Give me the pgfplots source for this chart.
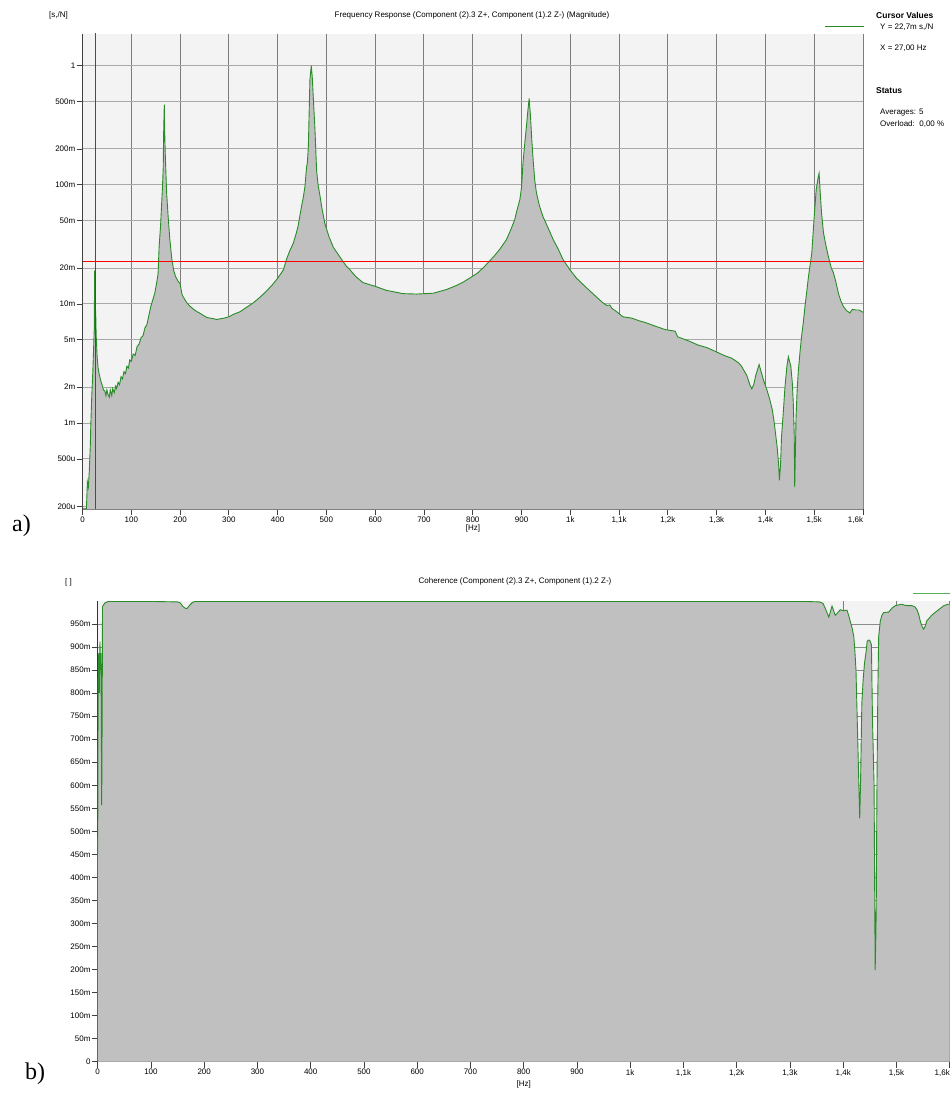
\documentclass[border=0pt]{standalone}
\usepackage{fontspec}
\setmainfont{Liberation Sans}
\newfontfamily\seriffont{Liberation Serif}
\usepackage{pgfplots}
\pgfplotsset{compat=1.18}
\usepackage{pgfplotstable}
\definecolor{bgc}{HTML}{F3F3F3}
\definecolor{fillc}{HTML}{C0C0C0}
\definecolor{linec}{RGB}{40,140,40}
\definecolor{lightg}{RGB}{90,175,90}
\definecolor{vgrid}{HTML}{7C7C7C}
\definecolor{hgrid}{HTML}{A8A8A8}
\newcommand{\lbl}{\fontsize{8}{9}\selectfont}
\newcommand{\bfnt}{\fontsize{8.5}{10}\selectfont\bfseries}

\pgfplotstableread{
f y
8 0.00019
10 0.00032
12 0.00029
14 0.00040
16 0.00065
17 0.00095
19 0.0017
21 0.0026
23 0.0045
24 0.0060
25 0.019
26 0.0060
27 0.0087
28 0.0055
30 0.0036
32 0.0029
34 0.0026
37 0.0023
40 0.0021
43 0.0019
46 0.00185
48 0.0017
50 0.0019
52 0.00175
55 0.00165
57 0.0019
60 0.0017
62 0.00195
65 0.0018
68 0.00205
70 0.00195
73 0.0022
76 0.0021
79 0.00245
82 0.00235
85 0.0027
88 0.0026
91 0.0030
94 0.0029
97 0.0034
100 0.0033
104 0.0038
108 0.0037
112 0.0044
116 0.0046
120 0.0052
124 0.0054
128 0.0063
132 0.0067
136 0.0080
140 0.0095
144 0.0108
148 0.0122
152 0.015
155 0.018
157 0.030
160 0.045
162 0.066
164 0.097
165.5 0.14
166.5 0.29
167.7 0.47
168.5 0.28
169.5 0.19
171 0.126
172.5 0.085
176 0.051
179 0.035
183 0.024
187 0.019
191 0.0169
196 0.0155
200 0.0148
204 0.0120
209 0.0110
214 0.0102
220 0.0096
228 0.0090
235 0.0086
242 0.0083
248 0.0080
255 0.0077
262 0.0076
270 0.0075
275 0.0074
282 0.0075
290 0.0076
300 0.0078
310 0.0082
323 0.0086
335 0.0093
350 0.0102
365 0.0115
377 0.0128
390 0.0146
400 0.0164
412 0.0194
418 0.0236
425 0.028
432 0.0322
438 0.039
442 0.045
446 0.056
449 0.066
453 0.080
456 0.097
459.4 0.142
461 0.153
463 0.21
466.2 0.76
469 1.0
471 0.80
473 0.55
476.4 0.30
480 0.13
483 0.10
487 0.080
491 0.063
497 0.047
505 0.037
514 0.030
527 0.025
541 0.0207
548 0.0194
560 0.017
575 0.0151
599 0.0141
623 0.0130
657 0.0122
685 0.0121
719 0.0123
746 0.0132
765 0.0142
780 0.0152
795 0.0166
810 0.0182
822 0.0202
834 0.0228
846 0.0258
856 0.029
869 0.0346
878 0.042
886 0.051
891 0.062
896.5 0.075
900 0.095
903 0.153
906.5 0.22
910 0.308
913 0.42
915.6 0.53
918.4 0.374
921 0.24
923.8 0.162
927 0.11
930.7 0.085
937 0.066
944 0.054
955 0.043
965 0.0346
975 0.029
985 0.0236
999 0.0194
1013 0.0164
1033 0.0137
1050 0.0118
1067 0.0102
1075 0.0097
1081 0.0098
1085 0.0092
1095 0.0086
1108 0.0078
1126 0.0076
1142 0.0072
1153 0.0070
1170 0.0066
1194 0.0061
1215 0.0059
1220 0.0053
1242 0.0049
1263 0.0045
1280 0.0043
1297 0.0040
1315 0.0037
1331 0.0035
1345 0.0032
1351 0.0030
1362 0.0025
1368 0.0021
1372 0.00194
1376 0.0021
1380 0.0025
1387 0.0031
1396 0.0023
1403 0.0019
1409 0.00157
1414 0.0013
1418 0.00101
1424 0.00063
1427 0.00045
1428.6 0.00033
1431 0.00045
1433 0.00077
1437 0.0013
1440 0.0020
1444 0.0030
1447 0.0036
1452 0.0030
1455 0.0022
1457 0.0015
1459 0.0008
1460 0.00029
1461.5 0.0006
1462.7 0.0011
1465 0.0019
1467.6 0.0028
1471 0.0040
1474 0.0053
1478 0.0072
1481 0.0095
1485 0.013
1488 0.0167
1495 0.0267
1500 0.054
1504 0.0906
1508 0.115
1510 0.125
1512 0.09
1515 0.058
1519 0.0395
1524 0.031
1529 0.025
1535 0.020
1539 0.0185
1544 0.0155
1550 0.0121
1555 0.0105
1560 0.0095
1566 0.0088
1573 0.0084
1578 0.0090
1585 0.0089
1592 0.0089
1600 0.0085
}\frdata

\pgfplotstableread{
f c
0 0.45
1 0.86
2 0.887
3 0.80
4.3 0.912
5 0.85
6.2 0.887
7.5 0.557
8.5 0.778
9 0.988
13.7 0.996
20 0.999
100 0.999
150 0.998
155 0.996
160 0.988
165 0.984
168 0.984
172 0.990
178 0.997
183 0.999
300 0.999
600 0.999
900 0.999
1200 0.999
1330 0.999
1355 0.998
1362 0.995
1366 0.985
1373 0.965
1379 0.989
1385 0.969
1390 0.975
1394.5 0.981
1400 0.979
1407 0.980
1410 0.970
1413 0.957
1417 0.940
1420 0.922
1422 0.890
1424 0.850
1426.5 0.735
1429 0.619
1431 0.528
1432.5 0.600
1435 0.778
1437.5 0.830
1440 0.865
1443 0.890
1445 0.912
1447 0.915
1449 0.915
1451 0.912
1453 0.905
1455 0.742
1458 0.597
1460 0.199
1461 0.250
1462 0.329
1463.4 0.597
1465 0.800
1466.6 0.922
1469.7 0.957
1473 0.970
1476 0.975
1485.5 0.976
1492 0.985
1498 0.990
1510 0.993
1515 0.991
1520 0.990
1529 0.990
1535 0.987
1539 0.980
1542 0.970
1545 0.955
1548 0.945
1551 0.939
1554 0.945
1557 0.957
1567 0.970
1579 0.981
1589 0.990
1597 0.993
1600 0.993
}\cohdata

\pgfplotsset{
  mystyle/.style={
    scale only axis,
    axis lines*=left,
    tick align=outside,
    major tick length=6pt,
    tick style={color=black!75, line width=0.8pt},
    axis background/.style={fill=bgc},
    xmajorgrids, ymajorgrids,
    every tick label/.append style={font=\lbl},
    yticklabel style={inner sep=1pt},
    xticklabel style={inner sep=1.5pt},
    xmin=0, xmax=1600,
    xtick={0,100,...,1600},
    xticklabels={0,100,200,300,400,500,600,700,800,900,1k,{1,1k},{1,2k},{1,3k},{1,4k},{1,5k},{\hspace*{-15pt}1,6k}},
  }
}

\begin{document}
\begin{tikzpicture}
\path[use as bounding box] (0pt,0pt) rectangle (952pt,1093pt);

% ---------- a) frequency response ----------
\begin{axis}[mystyle,
  at={(82.5pt,584pt)}, anchor=south west,
  width=780.5pt, height=475pt,
  ymode=log, ymin=1.9e-4, ymax=1.844,
  ytick={2e-4,5e-4,1e-3,2e-3,5e-3,1e-2,2e-2,5e-2,0.1,0.2,0.5,1},
  yticklabels={200u,500u,1m,2m,5m,10m,20m,50m,100m,200m,500m,1},
  x grid style={color=vgrid, line width=1pt},
  y grid style={color=hgrid, line width=1pt},
  x axis line style={color=black!50, line width=1.4pt},
  y axis line style={color=black!75, line width=1pt},
]
\addplot[fill=fillc, draw=none] table[x=f,y=y] {\frdata} -- (axis cs:1600,1e-4) -- (axis cs:8,1e-4) -- cycle;
\addplot[color=linec, line width=0.9pt] table[x=f,y=y] {\frdata};
\addplot[red, line width=1pt] coordinates {(27,1e-4) (27,5)};
\addplot[red, line width=1pt] coordinates {(0,0.0227) (1600,0.0227)};
\end{axis}

% ---------- b) coherence ----------
\begin{axis}[mystyle,
  at={(97.7pt,31.3pt)}, anchor=south west,
  width=852pt, height=460.7pt,
  ymin=0, ymax=1,
  ytick={0,0.05,...,0.951},
  yticklabels={0,50m,100m,150m,200m,250m,300m,350m,400m,450m,500m,550m,600m,650m,700m,750m,800m,850m,900m,950m},
  x grid style={color=vgrid, line width=1pt},
  y grid style={color=black!45, line width=1pt},
  x axis line style={color=black!50, line width=1.4pt},
  y axis line style={color=black!80, line width=1pt},
]
\addplot[fill=fillc, draw=none] table[x=f,y=c] {\cohdata} \closedcycle;
\addplot[color=linec, line width=0.9pt] table[x=f,y=c] {\cohdata};
\end{axis}

% ---------- texts ----------
\node[anchor=west, font=\lbl, inner sep=0pt] at (49pt,1078pt) {[s,/N]};
\node[font=\lbl, inner sep=0pt] at (472pt,1077.5pt) {Frequency Response (Component (2).3 Z+, Component (1).2 Z-) (Magnitude)};
\node[anchor=west, font=\bfnt, inner sep=0pt] at (876pt,1078pt) {Cursor Values};
\draw[linec, line width=1pt] (824.7pt,1066pt) -- (863.7pt,1066pt);
\node[anchor=west, font=\lbl, inner sep=0pt] at (880pt,1066pt) {Y = 22,7m s,/N};
\node[anchor=west, font=\lbl, inner sep=0pt] at (880pt,1045pt) {X = 27,00 Hz};
\node[anchor=west, font=\bfnt, inner sep=0pt] at (876pt,1002pt) {Status};
\node[anchor=west, font=\lbl, inner sep=0pt] at (880pt,980pt) {Averages: 5};
\node[anchor=west, font=\lbl, inner sep=0pt] at (880pt,969pt) {Overload:\ \ 0,00 \%};
\node[font=\lbl, inner sep=0pt] at (473pt,565pt) {[Hz]};
\node[anchor=west, font=\seriffont\fontsize{24}{24}\selectfont, inner sep=0pt] at (12pt,567pt) {a)};

\node[anchor=west, font=\lbl, inner sep=0pt] at (65pt,510.5pt) {[ ]};
\node[font=\lbl, inner sep=0pt] at (515pt,511.5pt) {Coherence (Component (2).3 Z+, Component (1).2 Z-)};
\draw[lightg, line width=1pt] (913pt,499pt) -- (950pt,499pt);
\node[font=\lbl, inner sep=0pt] at (523.7pt,9pt) {[Hz]};
\node[anchor=west, font=\seriffont\fontsize{24}{24}\selectfont, inner sep=0pt] at (25pt,19pt) {b)};
\end{tikzpicture}
\end{document}
